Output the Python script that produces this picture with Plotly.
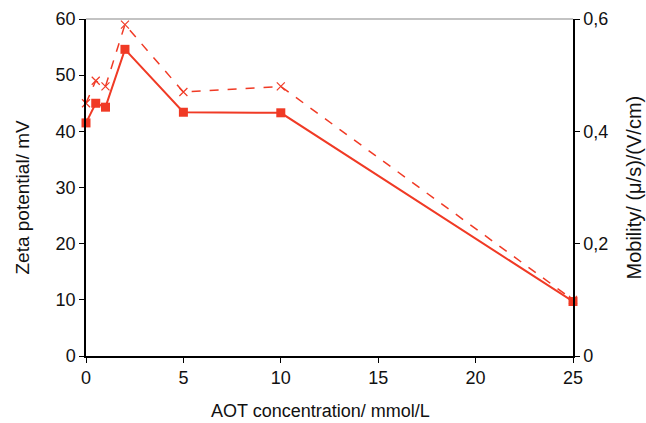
import plotly.graph_objects as go

aot = [0, 0.5, 1, 2, 5, 10, 25]
zeta = [41.5, 45.0, 44.3, 54.6, 43.4, 43.3, 9.7]
mobility = [0.45, 0.49, 0.48, 0.59, 0.47, 0.48, 0.10]

x_title = "AOT concentration/ mmol/L"
y_title = "Zeta potential/ mV"
y2_title = "Mobility/ (μ/s)/(V/cm)"

red = "#F03A25"
font = "Liberation Sans, Arial, sans-serif"

fig = go.Figure()
fig.add_trace(go.Scatter(x=aot, y=zeta, mode="lines+markers",
                         line=dict(color=red, width=2),
                         marker=dict(symbol="square", size=9, color=red),
                         cliponaxis=False, showlegend=False))
fig.add_trace(go.Scatter(x=aot, y=mobility, mode="lines+markers", yaxis="y2",
                         line=dict(color=red, width=1.5, dash="dash"),
                         marker=dict(symbol="x-thin", size=8, line=dict(color=red, width=1.2)),
                         cliponaxis=False, showlegend=False))

fig.update_layout(
    width=646, height=423,
    margin=dict(l=86, r=73, t=19, b=67),
    paper_bgcolor="white", plot_bgcolor="white",
    font=dict(family=font, size=18, color="#111"),
    xaxis=dict(range=[0, 25], tickvals=[0, 5, 10, 15, 20, 25], showgrid=False, zeroline=False,
               showline=True, linecolor="black", linewidth=1.5, ticks="outside", ticklen=5,
               tickcolor="black", automargin=False),
    yaxis=dict(range=[0, 60], tickvals=[0, 10, 20, 30, 40, 50, 60], showgrid=False, zeroline=False,
               showline=True, linecolor="black", linewidth=1.5, ticks="outside", ticklen=5,
               tickcolor="black", automargin=False),
    yaxis2=dict(range=[0, 0.6], tickvals=[0, 0.2, 0.4, 0.6], ticktext=["0", "0,2", "0,4", "0,6"],
                overlaying="y", side="right", showgrid=False, zeroline=False,
                showline=True, linecolor="black", linewidth=1.5, ticks="outside", ticklen=5,
                tickcolor="black", automargin=False),
    shapes=[dict(type="line", xref="paper", yref="paper", x0=0, x1=1, y0=1, y1=1,
                 line=dict(color="#888", width=1.2), layer="below")],
    annotations=[
        dict(text=x_title, xref="paper", yref="paper", x=0.5, y=0, xanchor="center", yanchor="middle",
             xshift=-9, yshift=-55, showarrow=False, font=dict(size=18)),
        dict(text=y_title, xref="paper", yref="paper", x=0, y=0.5, xanchor="center", yanchor="middle",
             xshift=-64, yshift=-10, textangle=-90, showarrow=False, font=dict(size=19)),
        dict(text=y2_title, xref="paper", yref="paper", x=1, y=0.5, xanchor="center", yanchor="middle",
             xshift=60, yshift=0, textangle=-90, showarrow=False, font=dict(size=20)),
    ],
)

fig.write_html("out.html", config={"displayModeBar": False},
               post_script="document.body.style.margin='0';document.body.style.overflow='hidden';")
